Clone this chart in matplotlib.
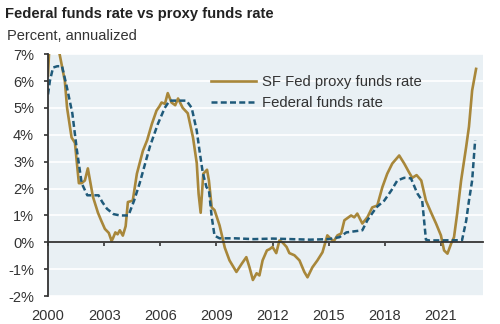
import matplotlib
matplotlib.use("Agg")
import matplotlib.pyplot as plt

plt.rcParams['font.family'] = ['Liberation Sans', 'DejaVu Sans']

# SF Fed proxy funds rate (decimal year, percent)
proxy_years = [2000.00, 2000.08, 2000.30, 2000.50, 2000.62, 2000.90, 2001.02, 2001.26,
               2001.44, 2001.65, 2001.80, 2001.97, 2002.13, 2002.40, 2002.67, 2002.85,
               2003.04, 2003.25, 2003.40, 2003.47, 2003.60, 2003.72, 2003.84, 2004.00,
               2004.15, 2004.27, 2004.53, 2004.75, 2005.07, 2005.30, 2005.55, 2005.80,
               2005.95, 2006.07, 2006.25, 2006.40, 2006.60, 2006.80, 2006.95, 2007.20,
               2007.47, 2007.75, 2007.95, 2008.05, 2008.16, 2008.30, 2008.50, 2008.60,
               2008.75, 2008.90, 2009.17, 2009.45, 2009.70, 2010.07, 2010.35, 2010.60,
               2010.77, 2010.95, 2011.15, 2011.30, 2011.47, 2011.70, 2011.85, 2012.00,
               2012.20, 2012.37, 2012.53, 2012.75, 2012.90, 2013.17, 2013.44, 2013.70,
               2013.87, 2014.13, 2014.40, 2014.67, 2014.93, 2015.20, 2015.30, 2015.47,
               2015.67, 2015.84, 2016.00, 2016.20, 2016.37, 2016.53, 2016.80, 2017.07,
               2017.33, 2017.60, 2017.87, 2018.13, 2018.40, 2018.77, 2019.04, 2019.30,
               2019.47, 2019.70, 2019.95, 2020.20, 2020.50, 2020.74, 2021.00, 2021.17,
               2021.35, 2021.55, 2021.70, 2021.87, 2022.08, 2022.35, 2022.50, 2022.67,
               2022.88]
proxy_rate = [6.2, 7.4, 7.9, 7.4, 7.0, 6.0, 5.0, 3.9,
              3.7, 2.2, 2.2, 2.3, 2.75, 1.7, 1.1, 0.8,
              0.5, 0.35, 0.05, 0.15, 0.37, 0.3, 0.45, 0.25,
              0.6, 1.5, 1.55, 2.55, 3.4, 3.8, 4.4, 4.9,
              5.05, 5.2, 5.15, 5.55, 5.2, 5.1, 5.35, 5.0,
              4.8, 3.9, 2.95, 1.8, 1.1, 2.55, 2.7, 2.3,
              1.3, 1.2, 0.63, -0.2, -0.67, -1.1, -0.8, -0.55,
              -0.93, -1.4, -1.15, -1.23, -0.67, -0.3, -0.25, -0.17,
              -0.4, 0.07, 0.0, -0.17, -0.4, -0.48, -0.67, -1.1,
              -1.3, -0.93, -0.67, -0.37, 0.26, 0.07, 0.07, 0.26,
              0.33, 0.82, 0.9, 1.0, 0.93, 1.07, 0.7, 0.93,
              1.3, 1.37, 2.05, 2.55, 2.93, 3.23, 2.93, 2.6,
              2.4, 2.5, 2.3, 1.55, 1.07, 0.7, 0.26, -0.3,
              -0.42, -0.04, 0.19, 1.07, 2.3, 3.55, 4.3, 5.65,
              6.45]

# Effective federal funds rate (decimal year, percent)
ffr_years = [2000.00, 2000.10, 2000.27, 2000.50, 2000.75, 2001.00, 2001.30, 2001.55,
             2001.80, 2002.10, 2002.70, 2002.90, 2003.15, 2003.50, 2003.85, 2004.30,
             2004.60, 2004.90, 2005.44, 2005.87, 2006.24, 2006.50, 2007.40, 2007.68,
             2007.95, 2008.10, 2008.27, 2008.47, 2008.60, 2008.75, 2008.90, 2009.17,
             2010.00, 2011.00, 2012.00, 2013.00, 2014.00, 2015.00, 2015.57, 2015.95,
             2016.80, 2017.07, 2017.55, 2017.97, 2018.35, 2018.67, 2019.04, 2019.40,
             2019.74, 2020.00, 2020.20, 2020.37, 2022.13, 2022.35, 2022.50, 2022.67,
             2022.83]
ffr_rate = [5.5, 6.0, 6.5, 6.55, 6.55, 5.8, 4.8, 3.4,
            2.2, 1.75, 1.75, 1.5, 1.25, 1.05, 1.0, 1.0,
            1.55, 2.2, 3.55, 4.4, 5.0, 5.27, 5.27, 5.0,
            4.15, 3.4, 2.6, 2.05, 1.95, 0.95, 0.25, 0.15,
            0.15, 0.12, 0.14, 0.12, 0.1, 0.12, 0.19, 0.37,
            0.45, 0.82, 1.3, 1.55, 1.93, 2.3, 2.4, 2.38,
            1.82, 1.55, 0.1, 0.07, 0.08, 0.8, 1.55, 2.3,
            3.8]

x_ticks = [2000, 2003, 2006, 2009, 2012, 2015, 2018, 2021]
y_ticks = [-2, -1, 0, 1, 2, 3, 4, 5, 6, 7]

gold = '#a8873a'
blue = '#1f5a7a'
txt = '#333333'

fig = plt.figure(figsize=(5, 3.24), dpi=100)
ax = fig.add_axes([0.096, 0.086, 0.87, 0.747])
ax.set_facecolor('#e9f0f4')

ax.plot(proxy_years, proxy_rate, color=gold, lw=1.9, label='SF Fed proxy funds rate')
ax.plot(ffr_years, ffr_rate, color=blue, lw=1.8, dashes=(2.4, 1.3),
        label='Federal funds rate')

ax.set_xlim(2000, 2023.25)
ax.set_ylim(-2, 7)
ax.set_yticks(y_ticks)
ax.set_yticklabels([f'{v}%' for v in y_ticks])
ax.set_xticks(x_ticks)
ax.set_xticklabels([str(v) for v in x_ticks])

ax.grid(axis='y', color='white', lw=1.2)
ax.set_axisbelow(True)

for s in ['top', 'right']:
    ax.spines[s].set_visible(False)
ax.spines['left'].set_color('#333333')
ax.spines['left'].set_linewidth(1.3)
ax.spines['bottom'].set_position(('data', 0))
ax.spines['bottom'].set_color('#333333')
ax.spines['bottom'].set_linewidth(1.3)

ax.tick_params(axis='y', length=3, width=1.2, color='#333333', pad=7,
               labelsize=10.5, labelcolor=txt)
ax.tick_params(axis='x', length=3, width=1.2, color='#333333', pad=45,
               labelsize=10.5, labelcolor=txt)

ax.legend(loc='upper left', bbox_to_anchor=(0.345, 0.97), frameon=False,
          fontsize=10.7, handlelength=3.0, handletextpad=0.4, labelspacing=0.5,
          labelcolor=txt)

fig.text(0.01, 0.958, 'Federal funds rate vs proxy funds rate', fontsize=10.6,
         fontweight='bold', color='#222222', va='center')
fig.text(0.014, 0.89, 'Percent, annualized', fontsize=10.5, color=txt, va='center')

fig.savefig('out.png', dpi=100)
